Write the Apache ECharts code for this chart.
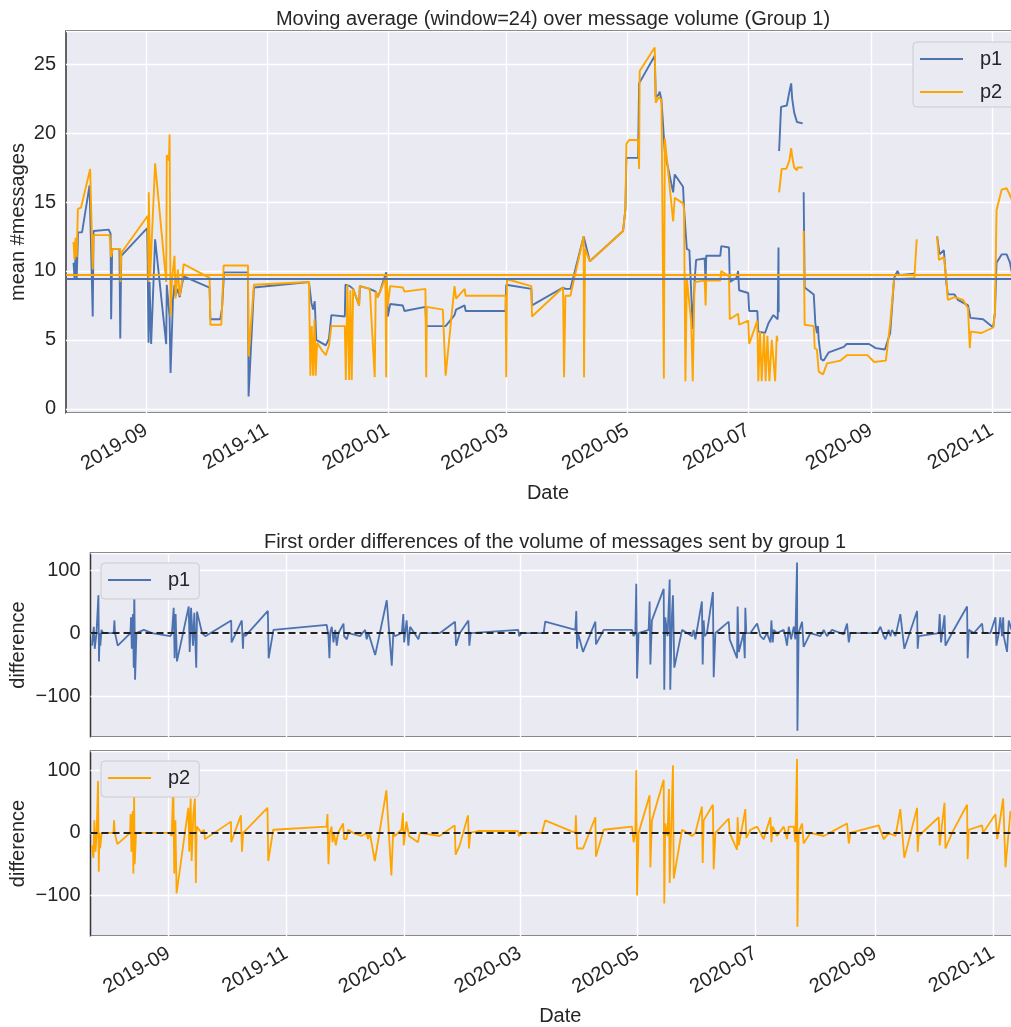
<!DOCTYPE html>
<html>
<head>
<meta charset="utf-8">
<script src="https://cdn.jsdelivr.net/npm/echarts@6/dist/echarts.min.js"></script>
<style>
html,body{margin:0;padding:0;background:#fff;}
#chart{width:1011px;height:1027px;}
</style>
</head>
<body>
<div id="chart"></div>
<script>
// ---------- DATA (x = days since 2019-09-01, y = value) ----------
const baseDate = [2019, 9, 1];
const xRangeDays = [-40.5, 446.3];
const xTickLabels = ['2019-09','2019-11','2020-01','2020-03','2020-05','2020-07','2020-09','2020-11'];

const titleTop = 'Moving average (window=24) over message volume (Group 1)';
const titleDiff = 'First order differences of the volume of messages sent by group 1';

const p1Mean = 9.44;
const p2Mean = 9.76;

const p1MovingAvg = [[-36.7,10.6],[-36.2,9.5],[-35.7,11.1],[-35.1,9.5],[-34.4,12.8],[-32.4,12.8],[-28.6,16.2],[-27.0,6.7],[-26.6,12.9],[-18.9,13.0],[-18.0,12.7],[-17.7,6.5],[-17.2,11.6],[-13.5,11.6],[-13.1,5.1],[-12.6,11.1],[0.5,13.1],[1.2,4.8],[1.7,9.2],[2.5,4.7],[4.5,12.3],[10.1,4.7],[10.4,9.0],[11.8,6.7],[12.3,2.6],[13.5,7.9],[14.3,9.0],[14.8,8.2],[16.0,8.7],[16.9,8.1],[17.9,8.9],[18.9,9.6],[32.0,8.8],[32.4,6.5],[37.4,6.5],[38.3,7.3],[39.3,9.9],[51.4,9.9],[51.7,0.9],[54.4,8.8],[82.2,9.2],[83.4,7.7],[84.3,7.2],[85.1,7.8],[85.9,5.0],[90.7,4.6],[92.3,5.1],[93.5,6.8],[100.3,6.7],[100.6,9.0],[102.8,8.9],[104.5,8.7],[107.5,7.5],[107.9,8.9],[112.9,8.7],[115.9,8.5],[116.9,8.1],[118.1,8.5],[119.1,9.0],[121.2,9.9],[122.0,6.7],[123.2,7.6],[129.6,7.5],[130.4,7.1],[141.0,7.4],[141.4,6.0],[151.2,6.0],[155.7,6.8],[156.5,7.2],[160.8,7.5],[161.3,7.1],[181.5,7.1],[181.8,9.0],[194.5,8.7],[194.8,7.5],[210.5,8.8],[211.7,8.7],[214.2,8.7],[220.9,12.5],[224.0,10.7],[240.8,12.9],[242.0,14.5],[242.5,18.2],[248.4,18.2],[248.9,23.6],[256.8,25.6],[257.3,22.6],[258.8,22.8],[259.3,23.0],[260.2,22.4],[261.9,18.6],[266.1,15.7],[266.9,17.0],[271.1,16.1],[271.6,14.5],[272.6,14.5],[273.0,11.6],[274.3,11.5],[276.0,5.8],[276.9,9.2],[277.7,10.8],[282.0,10.9],[282.5,9.1],[282.8,11.1],[289.9,11.1],[290.4,11.8],[294.3,11.7],[294.7,9.2],[298.1,9.5],[298.9,10.0],[299.4,8.6],[304.0,8.4],[304.5,7.1],[308.6,7.1],[309.1,5.6],[312.5,5.5],[314.2,6.2],[316.7,6.8],[318.9,6.5],[319.3,11.7],[319.4,7.0],[319.5,null],[319.6,18.7],[320.6,21.9],[323.5,22.0],[324.8,23.0],[325.7,23.6],[326.2,22.5],[327.2,21.5],[328.6,20.8],[331.5,20.7],[331.8,null],[332.0,15.7],[332.5,8.8],[337.1,8.3],[337.9,6.2],[338.7,5.5],[339.2,6.0],[339.6,5.0],[340.8,3.6],[342.1,3.5],[344.7,4.1],[352.3,4.5],[353.7,4.7],[365.0,4.7],[368.4,4.4],[373.0,4.3],[375.7,5.5],[377.7,9.5],[379.4,10.0],[380.3,9.7],[387.9,9.8],[388.5,null],[399.4,12.5],[400.6,11.2],[402.8,11.5],[404.0,9.2],[404.8,8.3],[408.2,8.3],[409.9,7.9],[415.0,7.5],[416.2,6.6],[422.6,6.5],[427.7,5.9],[428.6,7.0],[429.4,10.6],[432.0,11.2],[434.5,11.2],[436.2,10.6],[437.1,9.9]];

const p2MovingAvg = [[-36.7,12.1],[-36.2,10.8],[-35.7,12.4],[-35.1,11.0],[-34.5,14.5],[-32.9,14.6],[-28.3,17.4],[-27.0,10.1],[-26.6,12.6],[-18.5,12.6],[-17.7,11.0],[-16.9,11.6],[-13.1,11.6],[-13.0,9.2],[-12.6,11.3],[0.8,14.0],[1.2,9.2],[1.3,15.7],[2.0,9.6],[4.5,17.8],[10.1,9.2],[10.4,18.4],[11.5,18.0],[11.8,19.9],[12.3,6.7],[13.0,9.4],[14.3,11.1],[14.8,8.0],[16.0,10.1],[16.9,8.2],[17.9,9.0],[18.9,10.5],[32.0,9.5],[32.4,6.1],[37.9,6.1],[38.3,7.3],[39.1,10.4],[51.4,10.4],[51.7,3.8],[54.4,9.0],[82.2,9.2],[82.9,2.4],[83.6,6.0],[84.3,2.4],[85.0,6.5],[85.6,2.4],[86.3,4.8],[88.5,4.3],[90.7,3.9],[92.3,4.6],[93.5,6.0],[100.3,6.0],[100.8,2.1],[101.6,9.0],[102.5,2.1],[103.1,8.6],[103.8,2.1],[104.5,8.7],[107.5,7.5],[107.9,8.9],[112.9,8.7],[115.4,2.3],[115.9,8.5],[116.9,8.1],[118.1,8.5],[120.8,9.5],[121.2,2.3],[121.5,9.6],[122.0,7.5],[123.2,8.9],[129.6,8.8],[130.4,8.5],[141.0,8.7],[141.4,2.3],[141.7,7.4],[149.8,7.2],[151.2,2.4],[155.7,8.9],[156.5,8.0],[160.8,8.7],[161.3,8.2],[181.5,8.2],[181.8,2.3],[182.2,9.4],[194.5,8.9],[194.8,6.7],[210.5,8.8],[211.0,2.3],[211.7,8.2],[214.2,8.2],[220.9,12.5],[221.1,2.3],[221.6,11.6],[224.0,10.7],[240.8,12.9],[242.0,14.5],[242.5,19.2],[243.8,19.5],[248.4,19.5],[248.9,17.4],[249.2,24.5],[256.8,26.2],[257.3,22.2],[258.8,22.6],[260.2,22.4],[261.4,2.2],[261.9,19.6],[266.1,13.6],[266.9,15.3],[271.1,14.9],[271.6,14.5],[272.3,2.0],[273.0,9.5],[275.2,6.3],[276.0,2.0],[276.9,9.2],[282.0,9.3],[282.5,7.5],[282.8,9.3],[289.9,9.3],[290.4,10.0],[294.3,9.6],[294.7,6.5],[298.9,6.9],[299.4,6.1],[304.0,6.4],[304.5,4.7],[308.6,6.4],[309.1,2.0],[310.0,5.6],[310.8,2.0],[312.0,5.5],[312.8,2.0],[313.7,5.3],[314.7,2.0],[315.9,5.0],[317.6,2.0],[318.4,5.3],[318.9,4.9],[319.3,null],[319.6,15.7],[320.9,17.4],[323.2,17.4],[324.8,18.0],[325.7,18.9],[326.2,18.3],[327.2,17.5],[328.6,17.3],[328.9,17.5],[331.5,17.5],[331.8,null],[332.0,12.9],[332.5,6.1],[337.1,6.0],[337.6,4.4],[338.7,4.3],[339.6,2.7],[341.8,2.5],[343.8,3.3],[350.6,3.5],[354.0,3.9],[364.2,3.9],[367.6,3.4],[373.5,3.5],[375.7,6.2],[377.7,9.5],[379.4,9.4],[387.9,9.5],[389.1,12.3],[389.5,null],[399.4,12.5],[400.3,10.8],[402.8,11.0],[404.0,9.5],[404.8,7.9],[408.2,8.1],[412.5,7.9],[415.0,7.3],[415.9,4.4],[416.4,5.6],[421.8,5.5],[427.7,5.9],[428.6,7.0],[429.4,14.4],[432.0,15.9],[434.5,16.0],[437.1,15.2]];

const p1Diff = [[-39.7,-20],[-38.8,10],[-38.3,-25],[-37.4,0],[-36.4,60],[-36.1,-45],[-35.7,0],[-35.4,-20],[-34.8,5],[-34.0,0],[-28.5,0],[-28.1,20],[-27.8,0],[-26.4,-20],[-19.8,0],[-19.5,25],[-19.1,-25],[-18.5,30],[-18.1,-55],[-17.8,72],[-17.4,-74],[-16.7,0],[-12.9,5],[-8.6,0],[0.9,-5],[1.7,0],[2.6,40],[3.1,-40],[3.6,30],[4.3,-45],[10.4,42],[10.9,-30],[11.6,40],[12.6,-20],[13.3,32],[13.8,30],[14.3,-55],[14.7,34],[17.3,0],[19.0,-5],[32.4,20],[32.6,-15],[37.9,20],[38.5,-25],[38.8,0],[39.7,-5],[51.4,35],[51.8,-40],[54.3,5],[81.9,13],[82.8,-5],[83.3,-40],[83.7,0],[84.5,10],[85.4,-15],[86.3,5],[87.1,-20],[88.0,0],[90.6,15],[90.9,-5],[92.3,-10],[93.2,0],[99.2,-5],[101.8,5],[102.6,-10],[103.5,0],[107.0,-35],[113.0,52],[115.6,-52],[116.4,0],[117.3,-5],[120.8,0],[121.6,30],[122.0,-15],[123.3,20],[124.2,-20],[125.1,10],[129.4,-10],[130.2,0],[140.6,0],[148.4,18],[148.9,-20],[150.9,0],[155.3,20],[155.8,-20],[156.5,0],[181.1,5],[181.6,-5],[182.9,0],[194.3,0],[195.1,18],[210.7,5],[211.2,35],[211.6,-25],[212.1,0],[214.7,-30],[221.1,18],[221.4,-18],[223.7,-5],[225.4,5],[240.1,5],[240.9,-5],[241.8,0],[242.3,78],[242.7,-72],[243.5,0],[248.7,5],[249.2,50],[249.6,-50],[250.4,20],[256.5,70],[256.8,-90],[257.3,25],[258.5,-5],[259.6,85],[259.9,-90],[260.8,30],[261.3,60],[262.0,-55],[266.0,5],[268.6,0],[271.2,-5],[272.0,5],[272.9,-10],[276.3,50],[276.7,-50],[277.2,20],[277.7,-5],[278.9,0],[282.0,65],[282.4,-70],[283.3,0],[290.2,18],[290.7,-10],[294.5,-40],[294.8,42],[295.4,-30],[297.9,0],[298.5,-40],[298.8,40],[299.3,0],[301.4,0],[304.9,15],[306.6,-5],[308.3,-10],[310.0,0],[311.8,-15],[312.3,20],[313.0,-15],[313.5,5],[315.2,0],[318.7,5],[319.5,-5],[320.4,-20],[321.3,10],[322.5,-10],[323.9,10],[324.7,-10],[325.6,112],[325.8,-155],[326.4,0],[328.2,18],[329.0,-22],[332.5,0],[337.7,-5],[339.4,5],[341.1,-5],[343.7,5],[349.8,-2],[351.5,15],[352.4,-15],[353.2,0],[367.1,0],[368.8,10],[370.5,-5],[371.4,-10],[373.1,5],[374.0,-5],[374.8,5],[376.6,-5],[379.1,30],[381.2,-25],[387.8,35],[388.1,-25],[388.6,-5],[399.0,0],[399.5,30],[400.2,-15],[402.0,28],[402.5,-20],[405.9,0],[413.7,42],[414.0,-40],[414.6,5],[417.2,0],[421.5,15],[422.0,0],[425.8,0],[428.4,25],[428.9,-20],[430.1,0],[430.9,25],[431.8,-5],[432.4,25],[432.7,-5],[434.4,-30],[435.3,20],[436.7,5]];

const p2Diff = [[-39.8,-20],[-39.0,-40],[-38.5,20],[-37.9,-30],[-37.3,0],[-36.6,83],[-36.2,-62],[-35.9,0],[-35.5,-25],[-34.7,0],[-28.6,0],[-28.3,20],[-27.9,0],[-26.6,-18],[-20.0,0],[-19.7,30],[-19.3,-30],[-18.6,35],[-18.3,-65],[-17.9,60],[-17.6,-50],[-16.9,0],[-11.4,0],[0.7,0],[1.6,-5],[2.4,80],[2.9,-65],[3.5,20],[4.1,-97],[10.2,40],[10.7,-30],[11.4,55],[11.9,-45],[12.8,30],[13.6,55],[14.1,-80],[14.5,10],[17.1,0],[18.3,5],[18.8,-10],[32.3,18],[32.4,-15],[37.4,28],[38.0,-30],[38.6,0],[39.5,0],[51.2,40],[51.6,-45],[54.2,5],[81.8,10],[82.3,30],[82.8,-50],[83.5,0],[84.4,10],[84.9,-15],[85.6,0],[86.6,-20],[87.8,0],[90.4,15],[90.9,-10],[92.1,-10],[93.0,5],[95.6,0],[99.9,-5],[102.5,0],[103.3,-10],[104.2,0],[106.8,-45],[112.8,68],[115.4,-68],[116.3,0],[117.1,-5],[120.6,5],[121.4,32],[121.8,-20],[123.2,18],[124.5,-5],[129.2,-15],[130.1,0],[140.4,-5],[148.2,12],[148.7,-35],[150.8,-20],[155.1,28],[155.6,-25],[156.3,0],[160.3,3],[181.0,3],[181.5,-5],[183.5,0],[193.4,0],[195.1,20],[210.7,0],[211.0,28],[211.6,-25],[214.7,-25],[221.1,25],[221.4,-38],[225.4,5],[240.1,10],[240.9,-15],[241.8,0],[242.3,100],[242.7,-100],[243.5,0],[249.2,60],[249.6,-55],[250.4,20],[256.5,85],[256.8,-113],[257.3,15],[258.5,-5],[259.2,70],[259.6,-80],[261.3,108],[261.7,-73],[266.0,5],[268.6,0],[271.2,-5],[272.9,0],[276.3,42],[276.7,-48],[277.2,20],[282.0,45],[282.4,-58],[283.3,0],[290.2,23],[290.7,0],[294.5,-27],[294.8,25],[295.4,-20],[298.8,38],[299.3,-8],[301.4,5],[304.9,10],[308.3,-10],[311.8,25],[312.3,-15],[313.0,10],[315.2,-5],[318.7,10],[320.4,-10],[321.3,10],[323.9,10],[324.7,-15],[325.6,118],[325.8,-150],[326.4,0],[328.2,15],[329.0,-17],[332.5,0],[339.4,-5],[343.7,2],[351.5,15],[352.4,-17],[353.2,0],[367.9,12],[370.5,-10],[373.1,0],[376.6,-5],[379.1,38],[381.2,-40],[387.8,40],[388.1,-30],[388.6,-5],[399.0,25],[399.5,-20],[402.0,48],[402.5,-25],[405.9,0],[413.7,45],[414.0,-42],[414.6,5],[421.5,12],[422.0,0],[428.4,30],[429.3,-10],[432.4,55],[433.6,-55],[436.2,35]];

// ---------- helpers ----------
const DAY = 86400000;
const BASE = new Date(baseDate[0], baseDate[1] - 1, baseDate[2]).getTime();
const toTime = d => BASE + d * DAY;
const toSeries = arr => arr.map(([d, v]) => [toTime(d), v === null ? '-' : v]);
const tickTimes = xTickLabels.map(s => { const [y, m] = s.split('-').map(Number); return new Date(y, m - 1, 1).getTime(); });
const pad2 = n => (n < 10 ? '0' : '') + n;
const fmtMonth = v => { const dt = new Date(v); return dt.getFullYear() + '-' + pad2(dt.getMonth() + 1); };

const FONT = 'Liberation Sans';
const TXT = '#262626';
const BLUE = '#4c72b0';
const ORANGE = '#ffa500';
const BG = '#eaeaf2';

const yFmt = step => v => {
  const r = Math.round(v / step) * step;
  if (Math.abs(v - r) > 1e-6) return '';
  return String(r).replace('-', '\u2212');
};

function xAxis(gridIndex, showLabels) {
  return {
    type: 'value', gridIndex, scale: true,
    min: toTime(xRangeDays[0]), max: toTime(xRangeDays[1]),
    axisLine: {show: false}, axisTick: {show: false, customValues: tickTimes},
    splitLine: {show: true, lineStyle: {color: '#ffffff', width: 1.4}},
    axisLabel: {show: showLabels, customValues: tickTimes, rotate: 30, margin: 16,
      formatter: v => fmtMonth(v), fontFamily: FONT, fontSize: 20, color: TXT},
    name: showLabels ? 'Date' : '', nameLocation: 'middle', nameGap: 70, nameMoveOverlap: false,
    nameTextStyle: {fontFamily: FONT, fontSize: 20, color: TXT}
  };
}
function yAxis(gridIndex, min, max, splitNumber, step, name, gap) {
  return {
    type: 'value', gridIndex, min, max, splitNumber,
    axisLine: {show: false}, axisTick: {show: false},
    splitLine: {show: true, lineStyle: {color: '#ffffff', width: 1.4}},
    axisLabel: {formatter: yFmt(step), margin: 10, fontFamily: FONT, fontSize: 20, color: TXT},
    name, nameLocation: 'middle', nameGap: gap, nameRotate: 90, nameMoveOverlap: false,
    nameTextStyle: {fontFamily: FONT, fontSize: 20, color: TXT}
  };
}
const meanLine = (val, color) => ({
  silent: true, symbol: ['none', 'none'], label: {show: false},
  lineStyle: {color, width: 2, type: 'solid'}, data: [{yAxis: val}]
});
const zeroLine = () => ({
  silent: true, symbol: ['none', 'none'], label: {show: false},
  lineStyle: {color: '#222222', width: 1.8, type: [7, 4]}, data: [{yAxis: 0}]
});
const legendBox = (data, left, top, padding, gap) => ({
  data, orient: 'vertical', left, top, itemWidth: 43, itemHeight: 2, itemGap: gap,
  icon: 'rect', padding, backgroundColor: BG, borderColor: '#cccccc', borderWidth: 1, borderRadius: 4,
  textStyle: {fontFamily: FONT, fontSize: 20, color: TXT, padding: [0, 0, 0, 12]}
});
const gridBox = (left, top, width, height) => ({
  left, top, width, height, show: true, backgroundColor: BG, borderColor: '#333333', borderWidth: 1.5,
  containLabel: false, outerBoundsMode: 'none'
});

const chart = echarts.init(document.getElementById('chart'), null, {renderer: 'canvas'});
chart.setOption({
  animation: false,
  backgroundColor: '#ffffff',
  title: [
    {text: titleTop, left: 548, top: 4, textAlign: 'center',
     textStyle: {fontFamily: FONT, fontSize: 20, fontWeight: 'normal', color: TXT}},
    {text: titleDiff, left: 550, top: 527, textAlign: 'center',
     textStyle: {fontFamily: FONT, fontSize: 20, fontWeight: 'normal', color: TXT}}
  ],
  legend: [
    legendBox(['p1', 'p2'], 913, 42, [7, 30, 5, 7], 13),
    legendBox(['p1'], 101, 563, [7, 9, 9, 7], 0),
    legendBox(['p2'], 101, 761, [7, 9, 9, 7], 0)
  ],
  grid: [
    gridBox(66, 31, 964, 382),
    gridBox(90.5, 553, 939.5, 184),
    gridBox(90.5, 751, 939.5, 185)
  ],
  xAxis: [xAxis(0, true), xAxis(1, false), xAxis(2, true)],
  yAxis: [
    yAxis(0, -0.3, 27.4, 5, 5, 'mean #messages', 38),
    yAxis(1, -165, 127, 3, 100, 'difference', 62),
    yAxis(2, -165, 131, 3, 100, 'difference', 62)
  ],
  series: [
    {name: 'p1', type: 'line', xAxisIndex: 0, yAxisIndex: 0, data: toSeries(p1MovingAvg),
     showSymbol: false, symbol: 'none', connectNulls: false, lineStyle: {color: BLUE, width: 1.9}, itemStyle: {color: BLUE},
     markLine: meanLine(p1Mean, BLUE)},
    {name: 'p2', type: 'line', xAxisIndex: 0, yAxisIndex: 0, data: toSeries(p2MovingAvg),
     showSymbol: false, symbol: 'none', connectNulls: false, lineStyle: {color: ORANGE, width: 1.9}, itemStyle: {color: ORANGE},
     markLine: meanLine(p2Mean, ORANGE)},
    {name: 'p1', type: 'line', xAxisIndex: 1, yAxisIndex: 1, data: toSeries(p1Diff),
     showSymbol: false, symbol: 'none', lineStyle: {color: BLUE, width: 1.8}, itemStyle: {color: BLUE},
     markLine: zeroLine()},
    {name: 'p2', type: 'line', xAxisIndex: 2, yAxisIndex: 2, data: toSeries(p2Diff),
     showSymbol: false, symbol: 'none', lineStyle: {color: ORANGE, width: 1.8}, itemStyle: {color: ORANGE},
     markLine: zeroLine()}
  ]
});
</script>
</body>
</html>
